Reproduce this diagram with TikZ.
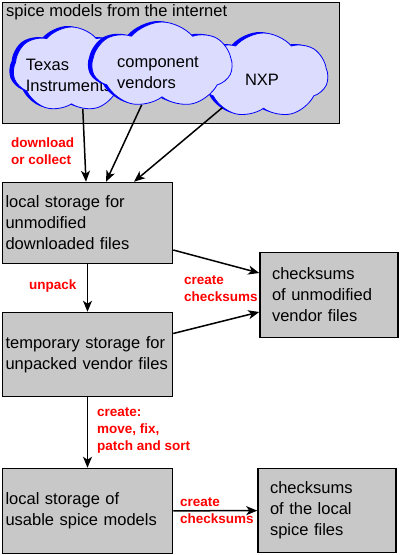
\documentclass[tikz,border=0pt]{standalone}
\usepackage{fontspec}
\setmainfont{Liberation Sans}
\usepackage{xcolor}
\usepackage{tikz}
\usetikzlibrary{positioning}
\usetikzlibrary{arrows.meta}
\usetikzlibrary{shapes}
\usetikzlibrary{shadows}
\usetikzlibrary{calc}

\definecolor{boxgray}{RGB}{200,200,200}
\definecolor{cloudfill}{RGB}{220,220,255}

\begin{document}
\begin{tikzpicture}[x=1pt, y=-1pt, >={Stealth[length=11pt, width=9pt, inset=3pt]}]

\tikzset{%
    every store/.style = {
        rectangle,
        draw,
        line width=1.5pt,
        fill=boxgray,
        align=left,
        inner ysep=0pt,
        font=\fontsize{16.5}{21}\selectfont
    },
    store wide/.style = {
        inner xsep=3pt,
        text width=164pt
    },
    store narrow/.style = {
        inner xsep=12pt,
        text width=114pt
    },
    vendor cloud/.style = {
        cloud,
        cloud puffs=7,
        cloud puff arc=100,
        cloud ignores aspect,
        draw=blue,
        fill=cloudfill,
        line width=0.8pt,
        inner sep=0pt,
        general shadow={fill=blue, shadow xshift=-4pt, shadow yshift=1pt}
    },
    cloud text/.style = {
        align=left,
        inner sep=0pt,
        font=\fontsize{16.5}{21}\selectfont
    },
    action/.style = {
        align=left,
        anchor=west,
        inner sep=0pt,
        text=red,
        font=\fontsize{13.5}{17}\selectfont\bfseries
    },
    flow/.style = {
        ->,
        line width=1.5pt
    }
}

\useasboundingbox (0,0) rectangle (400,555);

% the internet
\node [every store, minimum width=337pt, minimum height=121pt] (web) at (171,63) {};
\node [cloud text, anchor=west] (web-title) at (6,12) {spice models from the internet};

\node [vendor cloud, minimum width=117pt, minimum height=85pt] (ti) at (71.5,69.5) {};
\node [cloud text] (ti-text) at (69,75) {Texas\\Instruments};
\node [vendor cloud, minimum width=129pt, minimum height=85pt] (nxp) at (263.5,75.5) {};
\node [cloud text] (nxp-text) at (262,80) {NXP};
\node [vendor cloud, minimum width=140pt, minimum height=86pt] (comp) at (162,65) {};
\node [cloud text] (comp-text) at (158,73) {component\\vendors};

% storage boxes
\node [every store, store wide, minimum height=81pt] (raw) at (87.5,223)
  {local storage for\\unmodified\\downloaded files};
\node [every store, store wide, minimum height=84pt] (tmp) at (87.5,354.5)
  {temporary storage for\\unpacked vendor files};
\node [every store, store wide, minimum height=85pt] (lib) at (87.5,511)
  {local storage of\\usable spice models};
\node [every store, store narrow, minimum height=85pt] (raw-sums) at (329,295)
  {checksums\\of unmodified\\vendor files};
\node [every store, store narrow, minimum height=84pt] (lib-sums) at (327,510.5)
  {checksums\\of the local\\spice files};

% arrows
\draw [flow] (ti.-74) -- ([xshift=-1.5pt]raw.north);
\draw [flow] (comp.-117) -- ([xshift=18.5pt]raw.north);
\draw [flow] (nxp.-142) -- ([xshift=46.5pt]raw.north);

\draw [flow] (raw) -- (tmp);
\draw [flow] (tmp) -- (lib);
\draw [flow] ($(raw.east)+(0,27)$) -- ($(raw-sums.west)+(0,-22)$);
\draw [flow] ($(tmp.east)+(0,-21)$) -- ($(raw-sums.west)+(0,17)$);
\draw [flow] (lib) -- (lib-sums);

% labels
\node [action] (act-get) at (11,151) {download\\or collect};
\node [action] (act-unpack) at (29,286) {unpack};
\node [action] (act-raw-sums) at (184,288.5) {create\\checksums};
\node [action] (act-fix) at (97,430) {create:\\move, fix,\\patch and sort};
\node [action] (act-lib-sums) at (180,510.5) {create\\checksums};

\end{tikzpicture}
\end{document}
